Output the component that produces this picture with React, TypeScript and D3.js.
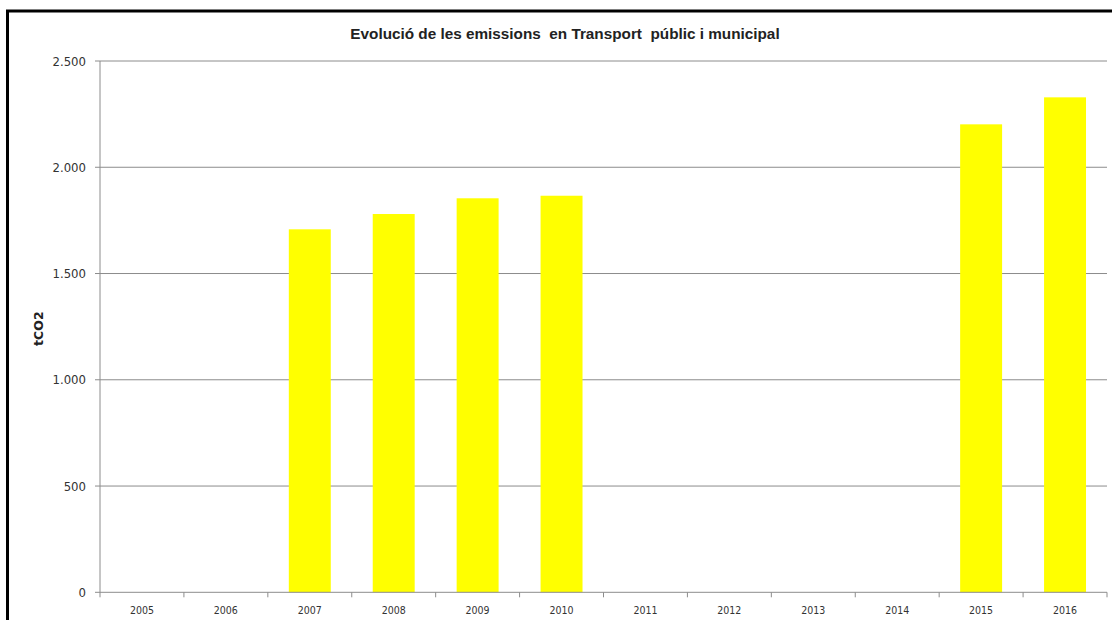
import React from "react";
import * as d3 from "d3";

const years = ["2005","2006","2007","2008","2009","2010","2011","2012","2013","2014","2015","2016"];
const emissions: (number | null)[] = [null, null, 1708, 1780, 1854, 1866, null, null, null, null, 2202, 2329];
const yTicks = [0, 500, 1000, 1500, 2000, 2500];
const title = "Evolució de les emissions  en Transport  públic i municipal";
const yLabel = "tCO2";

const W = 1112, H = 620;
const left = 100, right = 1107, top = 61, bottom = 592.3;

export default function App() {
  const x = d3.scaleBand<string>().domain(years).range([left, right]).paddingInner(0.5).paddingOuter(0.25);
  const xCat = d3.scaleBand<string>().domain(years).range([left, right]);
  const y = d3.scaleLinear().domain([0, 2500]).range([bottom, top]);
  const fmt = (v: number) => d3.format(",")(v).replace(/,/g, ".");
  const tickFont = "'DejaVu Sans Condensed', 'DejaVu Sans', sans-serif";
  return (
    <svg width={W} height={H} style={{ position: "absolute", left: 0, top: 0, background: "#fff" }}>
      <rect x={7.5} y={11} width={W + 20} height={H + 20} fill="#fff" stroke="#000" strokeWidth={3} />
      <text x={565} y={39} textAnchor="middle" fontFamily="'Liberation Sans', Arial, sans-serif" fontWeight="bold" fontSize={15.3} fill="#222" style={{ whiteSpace: "pre" }}>{title}</text>
      {yTicks.map((t) => (
        <g key={t}>
          {t > 0 && <line x1={left} x2={right} y1={y(t)} y2={y(t)} stroke="#8c8c8c" strokeWidth={1} />}
          <line x1={left - 5} x2={left} y1={y(t)} y2={y(t)} stroke="#8c8c8c" strokeWidth={1} />
          <text x={86} y={y(t)} dy="0.35em" textAnchor="end" fontFamily={tickFont} fontSize={13} fill="#333">{fmt(t)}</text>
        </g>
      ))}
      {years.map((yr, i) => emissions[i] == null ? null : (
        <rect key={yr} x={x(yr)} y={y(emissions[i] as number)} width={x.bandwidth()} height={bottom - y(emissions[i] as number)} fill="#FFFF00" />
      ))}
      <line x1={left} x2={left} y1={top} y2={bottom} stroke="#8c8c8c" strokeWidth={1} />
      <line x1={left} x2={right} y1={bottom} y2={bottom} stroke="#8c8c8c" strokeWidth={1} />
      {years.map((yr) => (
        <line key={"t" + yr} x1={xCat(yr)!} x2={xCat(yr)!} y1={bottom} y2={bottom + 5} stroke="#8c8c8c" />
      ))}
      <line x1={right} x2={right} y1={bottom} y2={bottom + 5} stroke="#8c8c8c" />
      {years.map((yr) => (
        <text key={"l" + yr} x={xCat(yr)! + xCat.bandwidth() / 2} y={610} dy="0.35em" textAnchor="middle" fontFamily={tickFont} fontSize={10.5} fill="#333">{yr}</text>
      ))}
      <text transform={`translate(39,${(top + bottom) / 2 + 2}) rotate(-90)`} textAnchor="middle" dy="0.35em" fontFamily="'DejaVu Sans', sans-serif" fontWeight="bold" fontSize={12.5} fill="#222">{yLabel}</text>
    </svg>
  );
}
